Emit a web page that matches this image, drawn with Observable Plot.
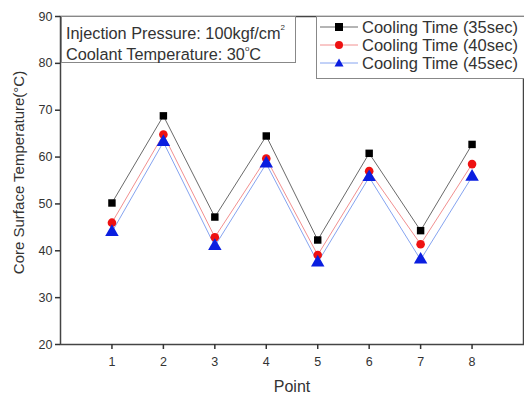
<!DOCTYPE html>
<html>
<head>
<meta charset="utf-8">
<script src="https://cdn.jsdelivr.net/npm/d3@7"></script>
<script src="https://cdn.jsdelivr.net/npm/@observablehq/plot@0.6"></script>
<style>
  html, body { margin: 0; padding: 0; background: #fff; overflow: hidden; }
  #wrap { position: relative; width: 524px; height: 395px; font-family: "Liberation Sans", Arial, sans-serif; }
  .box { position: absolute; background: #fff; border: 1px solid #888; color: #333; }
  #note { left: 61px; top: 16px; width: 233px; height: 45px; font-size: 16.3px; }
  #note div { position: absolute; left: 4px; white-space: nowrap; }
  #legend { left: 316px; top: 16px; width: 215px; height: 61px; font-size: 16.5px; }
  #legend .row { position: absolute; left: 2px; height: 18px; display: flex; align-items: center; white-space: nowrap; }
  #legend svg { margin-right: 3px; flex: none; }
  sup { font-size: 8px; vertical-align: 9px; }
</style>
</head>
<body>
<div id="wrap"></div>
<script>
const points = [1, 2, 3, 4, 5, 6, 7, 8];
const cool35 = [50.2, 68.8, 47.2, 64.5, 42.3, 60.8, 44.3, 62.7];
const cool40 = [46.0, 64.8, 42.9, 59.7, 39.1, 57.0, 41.4, 58.5];
const cool45 = [44.0, 63.2, 41.0, 58.6, 37.5, 55.7, 38.1, 55.8];
const seriesNames = ["Cooling Time (35sec)", "Cooling Time (40sec)", "Cooling Time (45sec)"];
const yTicks = [20, 30, 40, 50, 60, 70, 80, 90];

const styles = [
  {line: "#6a6a6a", fill: "#000000", symbol: "square", r: 4.2},
  {line: "#f29090", fill: "#ee1111", symbol: "circle", r: 4.3},
  {line: "#86a4f0", fill: "#0a1ee0", symbol: "triangle", r: 5}
];
const allSeries = [cool35, cool40, cool45];
const data = allSeries.flatMap((vals, i) => points.map((p, j) => ({point: p, value: vals[j], series: seriesNames[i]})));

const marks = [];
allSeries.forEach((vals, i) => {
  const d = data.filter(r => r.series === seriesNames[i]);
  marks.push(Plot.line(d, {x: "point", y: "value", stroke: styles[i].line, strokeWidth: 1}));
});
allSeries.forEach((vals, i) => {
  const d = data.filter(r => r.series === seriesNames[i]);
  marks.push(Plot.dot(d, {x: "point", y: "value", symbol: () => styles[i].symbol, fill: styles[i].fill, stroke: "none", r: styles[i].r}));
});

const chart = Plot.plot({
  width: 524,
  height: 395,
  marginLeft: 60,
  marginRight: 1,
  marginTop: 16,
  marginBottom: 51,
  style: {fontFamily: "Liberation Sans, Arial, sans-serif", fontSize: "12.5px", color: "#333", background: "#fff"},
  x: {domain: [0, 9]},
  y: {domain: [20, 90]},
  symbol: {type: "identity"},
  marks: [
    Plot.frame({stroke: "#444", strokeWidth: 1.5}),
    Plot.axisY({ticks: yTicks, tickSize: 5, tickPadding: 3, stroke: "#333", strokeWidth: 1.5, fontSize: 12.5,
      label: "Core Surface Temperature(°C)", labelAnchor: "center", labelArrow: "none", labelOffset: 47}),
    Plot.axisX({ticks: points, tickSize: 5, tickPadding: 8, stroke: "#333", strokeWidth: 1.5, fontSize: 12.5,
      label: "Point", labelAnchor: "center", labelArrow: "none", labelOffset: 47}),
    ...marks
  ]
});
const wrap = document.getElementById("wrap");
wrap.appendChild(chart);
chart.querySelectorAll("[aria-label='y-axis label'] text").forEach(t => { t.style.fontSize = "15px"; t.setAttribute("dx", "8"); });
chart.querySelectorAll("[aria-label='x-axis label'] text").forEach(t => t.style.fontSize = "16px");

// annotation box
const note = document.createElement("div");
note.className = "box"; note.id = "note";
note.innerHTML = '<div style="top:6px">Injection Pressure: 100kgf/cm<sup>2</sup></div><div style="top:27px">Coolant Temperature: 30<sup>o</sup>C</div>';
wrap.appendChild(note);

// legend box
const legend = document.createElement("div");
legend.className = "box"; legend.id = "legend";
const symbolPath = {
  square: '<rect x="16" y="5" width="8" height="8"/>',
  circle: '<circle cx="20" cy="9" r="4"/>',
  triangle: '<path d="M20,4.5 L24.5,12.5 L15.5,12.5 Z"/>'
};
seriesNames.forEach((name, i) => {
  const row = document.createElement("div");
  row.className = "row";
  row.style.top = (1 + i * 18) + "px";
  row.innerHTML = `<svg width="40" height="18"><line x1="1" x2="39" y1="9" y2="9" stroke="${styles[i].line}" stroke-width="1"/><g fill="${styles[i].fill}">${symbolPath[styles[i].symbol]}</g></svg><span>${name}</span>`;
  legend.appendChild(row);
});
wrap.appendChild(legend);
</script>
</body>
</html>
